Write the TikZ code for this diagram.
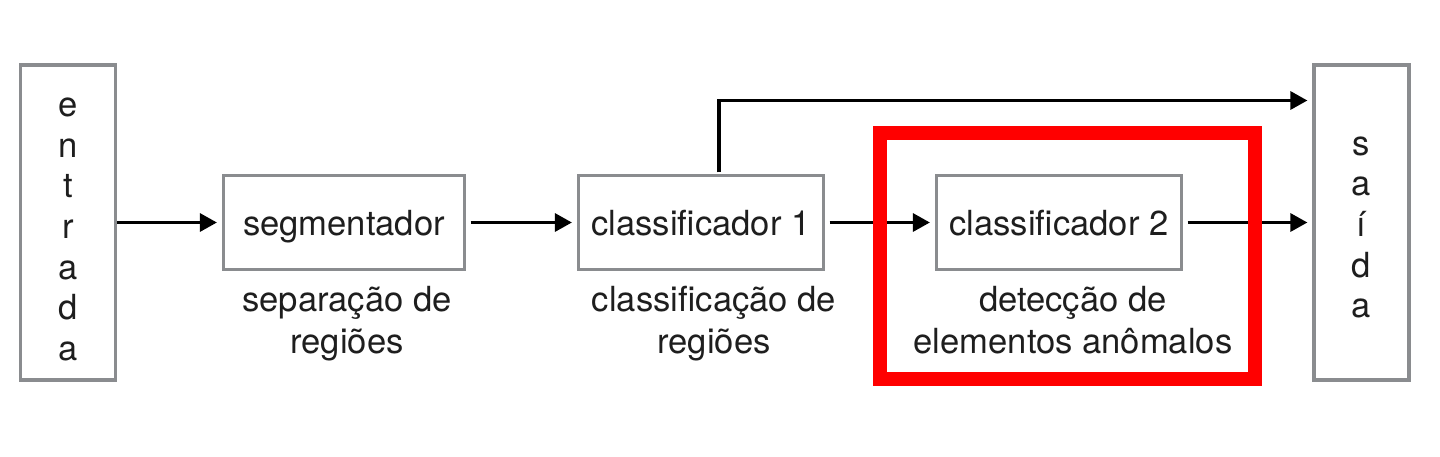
\documentclass[tikz,border=0pt]{standalone}
\usepackage{fontspec}
\setmainfont{TeX Gyre Heros}
\usetikzlibrary{arrows.meta}
\definecolor{boxgray}{RGB}{138,140,143}
\definecolor{txt}{RGB}{30,30,30}
\begin{document}
\begin{tikzpicture}[x=0.5pt,y=-0.5pt,
  box/.style={draw=boxgray, line width=1.6pt, inner sep=0pt, text=txt, text depth=0pt,
    font=\fontsize{17.3}{20.3}\selectfont, align=center},
  vtxt/.style={inner sep=0pt, text=txt, font=\fontsize{17.3}{20.3}\selectfont, align=center},
  lbl/.style={inner sep=0pt, text=txt, font=\fontsize{17.3}{21}\selectfont, align=center, anchor=north},
  arr/.style={line width=1.6pt, -{Triangle[length=8.5pt,width=9pt]}, shorten >=2.5pt, shorten <=2.2pt}]
\fill[white] (0,0) rectangle (1440,456);
\useasboundingbox (0,0) rectangle (1440,456);

\node[box, minimum width=47.5pt, minimum height=157.5pt] (in) at (68,222.5) {};
\node[vtxt] (intxt) at ([yshift=-3.5pt]in.center) {e\\n\\t\\r\\a\\d\\a};
\node[box, minimum width=120.5pt, minimum height=47pt] (seg) at (344,222.5) {segmentador};
\node[box, minimum width=122.5pt, minimum height=47pt] (c1) at (701,222.5) {classificador 1};
\node[box, minimum width=122.5pt, minimum height=47pt] (c2) at (1059,222.5) {classificador 2};
\node[box, minimum width=47.5pt, minimum height=157.5pt] (out) at (1361.5,222.5) {};
\node[vtxt] (outtxt) at ([yshift=-2.5pt]out.center) {s\\a\\í\\d\\a};

\node[lbl] (lseg) at (347,286) {separação de\\regiões};
\node[lbl] (lc1) at (714,286) {classificação de\\regiões};
\node[lbl] (lc2) at (1073,286) {detecção de\\elementos anômalos};

\draw[arr, shorten <=0pt] (in) -- (seg);
\draw[arr] (seg) -- (c1);
\draw[arr] (c1) -- (c2);
\draw[arr] (c2) -- (out);
\draw[arr, shorten <=0.8pt] ([xshift=9pt]c1.north) |- ([yshift=61pt]out.west);

\node[draw=red, line width=7pt, inner sep=0pt, minimum width=187.5pt, minimum height=122.75pt] (hl) at (1067,255.75) {};
\end{tikzpicture}
\end{document}
